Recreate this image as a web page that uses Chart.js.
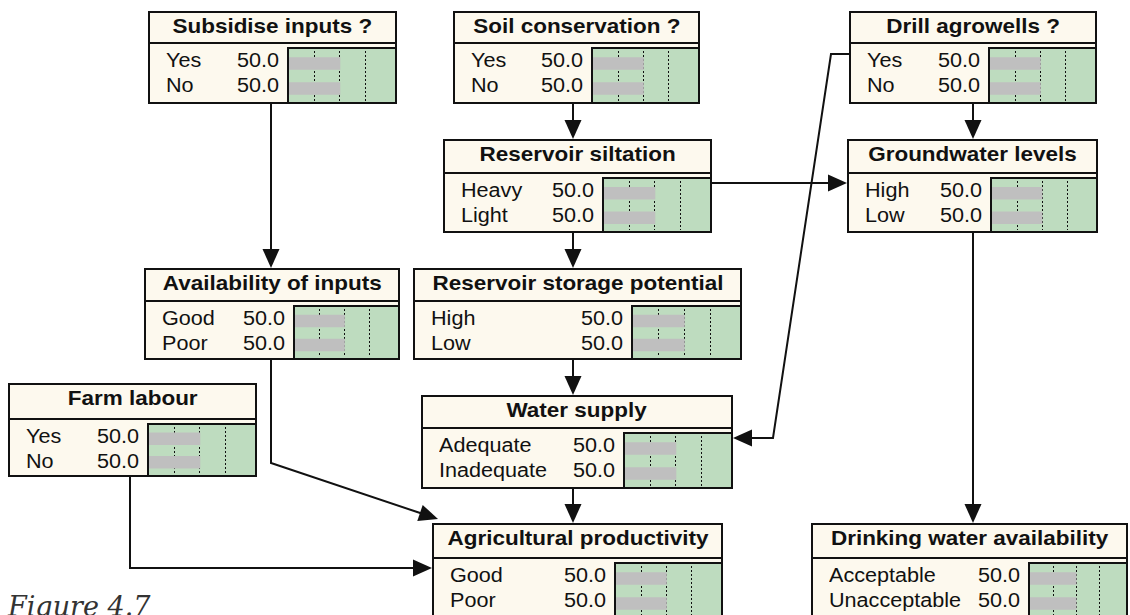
<!DOCTYPE html>
<html>
<head>
<meta charset="utf-8">
<script src="https://cdn.jsdelivr.net/npm/chart.js@4.4.1/dist/chart.umd.min.js"></script>
<style>
    body { margin: 0; background: #fff; }
    #page { position: relative; width: 1130px; height: 615px; overflow: hidden; font-family: "Liberation Sans", Arial, sans-serif; color: #111; }
    #links { position: absolute; left: 0; top: 0; }
    .node { position: absolute; box-sizing: border-box; border: 2px solid #111; background: #fdf9ee; }
    .title { position: absolute; left: 0; right: 0; top: 0; box-sizing: border-box; border-bottom: 2px solid #111; text-align: center; font-weight: bold; font-size: 21px; line-height: 26px; white-space: nowrap; }
    .title span { display: inline-block; transform: scaleX(1.07); }
    .row { position: absolute; left: 0; height: 25px; line-height: 25px; font-size: 20px; white-space: nowrap; }
    .row .lab { position: absolute; left: 16px; transform: scaleX(1.08); transform-origin: left; }
    .row .val { position: absolute; right: 0; transform: scaleX(1.08); transform-origin: right; }
    .belief { position: absolute; right: 0; bottom: 0; box-sizing: border-box; border-top: 2px solid #111; border-left: 2px solid #111; background: #bedcbf; }
    .belief canvas { display: block; }
    #fig { position: absolute; left: 8px; top: 593px; font-family: "DejaVu Serif", serif; font-style: italic; font-size: 27px; line-height: 1; color: #333; }
</style>
</head>
<body>
<div id="page">
    <svg id="links" width="1130" height="615"></svg>
    <div id="fig">Figure 4.7</div>
</div>
<script>
// Node data
const nodeTitles = [
    'Subsidise inputs ?', 'Soil conservation ?', 'Drill agrowells ?',
    'Reservoir siltation', 'Groundwater levels', 'Availability of inputs',
    'Reservoir storage potential', 'Farm labour', 'Water supply',
    'Agricultural productivity', 'Drinking water availability'
];
const nodeStates = [
    ['Yes', 'No'], ['Yes', 'No'], ['Yes', 'No'],
    ['Heavy', 'Light'], ['High', 'Low'], ['Good', 'Poor'],
    ['High', 'Low'], ['Yes', 'No'], ['Adequate', 'Inadequate'],
    ['Good', 'Poor'], ['Acceptable', 'Unacceptable']
];
const nodeBeliefs = [
    [50.0, 50.0], [50.0, 50.0], [50.0, 50.0],
    [50.0, 50.0], [50.0, 50.0], [50.0, 50.0],
    [50.0, 50.0], [50.0, 50.0], [50.0, 50.0],
    [50.0, 50.0], [50.0, 50.0]
];
const gridTicks = [25, 50, 75];

// Layout: box position, size, title band height, width of the belief bar area
const boxes = [
    { x: 148, y: 11, w: 249, h: 93, t: 31, g: 110 },
    { x: 453, y: 11, w: 247, h: 93, t: 31, g: 109 },
    { x: 849, y: 11, w: 248, h: 93, t: 31, g: 109 },
    { x: 443, y: 139, w: 269, h: 94, t: 33, g: 110 },
    { x: 847, y: 139, w: 251, h: 94, t: 33, g: 108 },
    { x: 144, y: 268, w: 256, h: 92, t: 32, g: 107 },
    { x: 413, y: 268, w: 329, h: 92, t: 32, g: 111 },
    { x: 8, y: 383, w: 249, h: 94, t: 35, g: 110 },
    { x: 421, y: 395, w: 312, h: 94, t: 32, g: 110 },
    { x: 432, y: 523, w: 291, h: 96, t: 34, g: 109 },
    { x: 811, y: 523, w: 317, h: 96, t: 34, g: 100 }
];

// Connector routes (last point is the arrow tip)
const links = [
    [[271, 104], [271, 268]],
    [[573, 104], [573, 139]],
    [[973, 104], [973, 139]],
    [[712, 183], [847, 183]],
    [[849, 54], [831, 54], [773, 438], [733, 438]],
    [[573, 233], [573, 268]],
    [[573, 360], [573, 395]],
    [[573, 489], [573, 523]],
    [[271, 360], [271, 463], [438, 519]],
    [[130, 477], [130, 568], [432, 568]],
    [[973, 233], [973, 523]]
];

const page = document.getElementById('page');
const svgNS = 'http://www.w3.org/2000/svg';

function drawLink(svg, pts) {
    const n = pts.length;
    const [x1, y1] = pts[n - 2];
    const [x2, y2] = pts[n - 1];
    const len = Math.hypot(x2 - x1, y2 - y1);
    const ux = (x2 - x1) / len, uy = (y2 - y1) / len;
    const headL = 19, headW = 8.5;
    const bx = x2 - ux * headL, by = y2 - uy * headL;
    const line = document.createElementNS(svgNS, 'polyline');
    line.setAttribute('points', pts.slice(0, n - 1).concat([[bx + ux, by + uy]]).map(p => p.join(',')).join(' '));
    line.setAttribute('fill', 'none');
    line.setAttribute('stroke', '#111');
    line.setAttribute('stroke-width', '2');
    svg.appendChild(line);
    const head = document.createElementNS(svgNS, 'polygon');
    head.setAttribute('points', [
        [x2, y2], [bx - uy * headW, by + ux * headW], [bx + uy * headW, by - ux * headW]
    ].map(p => p.join(',')).join(' '));
    head.setAttribute('fill', '#111');
    svg.appendChild(head);
}

function buildNode(i) {
    const b = boxes[i];
    const node = document.createElement('div');
    node.className = 'node';
    node.style.left = b.x + 'px';
    node.style.top = b.y + 'px';
    node.style.width = b.w + 'px';
    node.style.height = b.h + 'px';

    const title = document.createElement('div');
    title.className = 'title';
    title.style.height = b.t + 'px';
    title.innerHTML = '<span></span>';
    title.firstChild.textContent = nodeTitles[i];
    node.appendChild(title);

    const innerW = b.w - 4, innerH = b.h - 4;
    nodeStates[i].forEach((s, k) => {
        const row = document.createElement('div');
        row.className = 'row';
        row.style.top = (b.t + 3.5 + k * 25) + 'px';
        row.style.width = (innerW - (b.g - 2) - 8) + 'px';
        const lab = document.createElement('span');
        lab.className = 'lab';
        lab.textContent = s;
        const val = document.createElement('span');
        val.className = 'val';
        val.textContent = nodeBeliefs[i][k].toFixed(1);
        row.appendChild(lab);
        row.appendChild(val);
        node.appendChild(row);
    });

    const area = document.createElement('div');
    area.className = 'belief';
    area.style.width = (b.g - 2) + 'px';
    area.style.top = (b.t + 3) + 'px';
    const canvas = document.createElement('canvas');
    canvas.width = b.g - 4;
    canvas.height = innerH - b.t - 5;
    area.appendChild(canvas);
    node.appendChild(area);
    page.appendChild(node);

    new Chart(canvas, {
        type: 'bar',
        data: {
            labels: nodeStates[i],
            datasets: [{
                data: nodeBeliefs[i],
                backgroundColor: '#bfbfbf',
                barThickness: 12
            }]
        },
        options: {
            indexAxis: 'y',
            responsive: false,
            animation: false,
            layout: { padding: { top: 2, bottom: 1, left: 0, right: 0 } },
            plugins: { legend: { display: false }, tooltip: { enabled: false } },
            scales: {
                x: {
                    min: 0,
                    max: 104,
                    afterBuildTicks: (scale) => { scale.ticks = gridTicks.map(v => ({ value: v })); },
                    ticks: { display: false },
                    grid: { color: '#111', lineWidth: 1, drawTicks: false },
                    border: { display: false, dash: [2, 2] }
                },
                y: { display: false }
            }
        }
    });
}

document.addEventListener('DOMContentLoaded', () => {
    const svg = document.getElementById('links');
    links.forEach(pts => drawLink(svg, pts));
    nodeTitles.forEach((t, i) => buildNode(i));
});
</script>
</body>
</html>
